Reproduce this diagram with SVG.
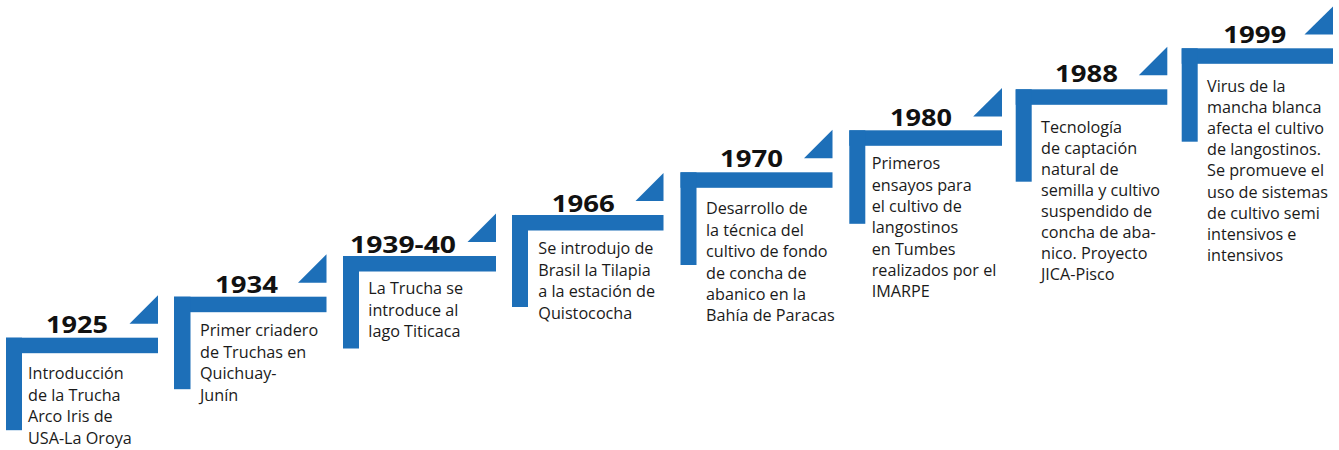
<svg xmlns="http://www.w3.org/2000/svg" width="1339" height="450" viewBox="0 0 1339 450">
<style>
.b{fill:#1d6fb8}
.yr{font-family:"Open Sans","Liberation Sans",sans-serif;font-weight:bold;font-size:23px;fill:#111}
.tx{font-family:"Open Sans","Liberation Sans",sans-serif;font-size:16.2px;fill:#1a1a1a}
</style>
<rect width="1339" height="450" fill="#fff"/>
<g id="step-1925">
<rect class="b" x="6" y="337.7" width="152" height="15.5"/><rect class="b" x="6" y="337.7" width="16" height="92.5"/>
<polygon class="b" points="129.5,323.7 158,323.7 158,295.2"/>
<text class="yr" x="46" y="333" textLength="62" lengthAdjust="spacingAndGlyphs">1925</text>
<text class="tx" x="28" y="379.3"><tspan x="28">Introducción</tspan><tspan x="28" dy="21.5">de la Trucha</tspan><tspan x="28" dy="21.5">Arco Iris de</tspan><tspan x="28" dy="21.5">USA-La Oroya</tspan></text>
</g>
<g id="step-1934">
<rect class="b" x="174" y="296.7" width="152.5" height="15.5"/><rect class="b" x="174" y="296.7" width="16.5" height="92.5"/>
<polygon class="b" points="298,282.7 326.5,282.7 326.5,254.2"/>
<text class="yr" x="215" y="293" textLength="63" lengthAdjust="spacingAndGlyphs">1934</text>
<text class="tx" x="200" y="336"><tspan x="200">Primer criadero</tspan><tspan x="200" dy="21.5">de Truchas en</tspan><tspan x="200" dy="21.5">Quichuay-</tspan><tspan x="200" dy="21.5">Junín</tspan></text>
</g>
<g id="step-1939-40">
<rect class="b" x="343" y="256" width="153" height="15.5"/><rect class="b" x="343" y="256" width="16" height="92.5"/>
<polygon class="b" points="467.5,242 496,242 496,213.5"/>
<text class="yr" x="350" y="253.3" textLength="106" lengthAdjust="spacingAndGlyphs">1939-40</text>
<text class="tx" x="368.3" y="294"><tspan x="368.3">La Trucha se</tspan><tspan x="368.3" dy="21.5">introduce al</tspan><tspan x="368.3" dy="21.5">lago Titicaca</tspan></text>
</g>
<g id="step-1966">
<rect class="b" x="512" y="215" width="151.5" height="15.5"/><rect class="b" x="512" y="215" width="16" height="92"/>
<polygon class="b" points="635.5,201 663.5,201 663.5,173"/>
<text class="yr" x="551.7" y="211.7" textLength="63" lengthAdjust="spacingAndGlyphs">1966</text>
<text class="tx" x="538.3" y="254.3"><tspan x="538.3">Se introdujo de</tspan><tspan x="538.3" dy="21.5">Brasil la Tilapia</tspan><tspan x="538.3" dy="21.5">a la estación de</tspan><tspan x="538.3" dy="21.5">Quistococha</tspan></text>
</g>
<g id="step-1970">
<rect class="b" x="680.5" y="172.3" width="152" height="15.5"/><rect class="b" x="680.5" y="172.3" width="16" height="92.7"/>
<polygon class="b" points="804,158.3 832.5,158.3 832.5,129.8"/>
<text class="yr" x="720" y="166.7" textLength="63" lengthAdjust="spacingAndGlyphs">1970</text>
<text class="tx" x="706" y="214.3"><tspan x="706">Desarrollo de</tspan><tspan x="706" dy="21.4">la técnica del</tspan><tspan x="706" dy="21.4">cultivo de fondo</tspan><tspan x="706" dy="21.4">de concha de</tspan><tspan x="706" dy="21.4">abanico en la</tspan><tspan x="706" dy="21.4">Bahía de Paracas</tspan></text>
</g>
<g id="step-1980">
<rect class="b" x="849.3" y="130.3" width="152.7" height="15.5"/><rect class="b" x="849.3" y="130.3" width="16" height="93.5"/>
<polygon class="b" points="973.2,116.5 1002,116.5 1002,88"/>
<text class="yr" x="890" y="126" textLength="62" lengthAdjust="spacingAndGlyphs">1980</text>
<text class="tx" x="871.7" y="169.3"><tspan x="871.7">Primeros</tspan><tspan x="871.7" dy="21.3">ensayos para</tspan><tspan x="871.7" dy="21.3">el cultivo de</tspan><tspan x="871.7" dy="21.3">langostinos</tspan><tspan x="871.7" dy="21.3">en Tumbes</tspan><tspan x="871.7" dy="21.3">realizados por el</tspan><tspan x="871.7" dy="21.3">IMARPE</tspan></text>
</g>
<g id="step-1988">
<rect class="b" x="1015.7" y="89.3" width="151.6" height="15.5"/><rect class="b" x="1015.7" y="89.3" width="16" height="92.4"/>
<polygon class="b" points="1138.8,75.3 1167.3,75.3 1167.3,46.8"/>
<text class="yr" x="1055" y="82.3" textLength="63" lengthAdjust="spacingAndGlyphs">1988</text>
<text class="tx" x="1041" y="133.3"><tspan x="1041">Tecnología</tspan><tspan x="1041" dy="20.9">de captación</tspan><tspan x="1041" dy="20.9">natural de</tspan><tspan x="1041" dy="20.9">semilla y cultivo</tspan><tspan x="1041" dy="20.9">suspendido de</tspan><tspan x="1041" dy="20.9">concha de aba-</tspan><tspan x="1041" dy="20.9">nico. Proyecto</tspan><tspan x="1041" dy="20.9">JICA-Pisco</tspan></text>
</g>
<g id="step-1999">
<rect class="b" x="1181.7" y="48.3" width="151.3" height="15.5"/><rect class="b" x="1181.7" y="48.3" width="16" height="93.4"/>
<polygon class="b" points="1304.5,34.5 1333,34.5 1333,6.5"/>
<text class="yr" x="1223.3" y="43.3" textLength="63" lengthAdjust="spacingAndGlyphs">1999</text>
<text class="tx" x="1207" y="92"><tspan x="1207">Virus de la</tspan><tspan x="1207" dy="21.1">mancha blanca</tspan><tspan x="1207" dy="21.1">afecta el cultivo</tspan><tspan x="1207" dy="21.1">de langostinos.</tspan><tspan x="1207" dy="21.1">Se promueve el</tspan><tspan x="1207" dy="21.1">uso de sistemas</tspan><tspan x="1207" dy="21.1">de cultivo semi</tspan><tspan x="1207" dy="21.1">intensivos e</tspan><tspan x="1207" dy="21.1">intensivos</tspan></text>
</g>
<g id="connectors"></g>
</svg>
